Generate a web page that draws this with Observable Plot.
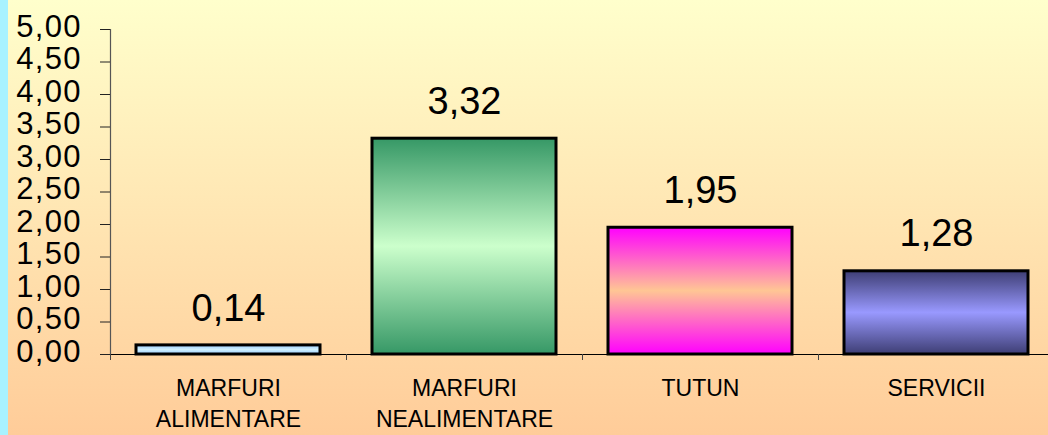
<!DOCTYPE html>
<html><head><meta charset="utf-8">
<script src="https://cdn.jsdelivr.net/npm/d3@7"></script>
<script src="https://cdn.jsdelivr.net/npm/@observablehq/plot@0.6"></script>
<style>
html,body{margin:0;padding:0;background:#ffcc99;overflow:hidden}
g[aria-label="y-axis tick label"] text{letter-spacing:1.3px}
</style>
</head><body><div id="chart"></div>
<script>
const categories = ["MARFURI\nALIMENTARE", "MARFURI\nNEALIMENTARE", "TUTUN", "SERVICII"];
const values = [0.14, 3.32, 1.95, 1.28];
const yTicks = [0, 0.5, 1, 1.5, 2, 2.5, 3, 3.5, 4, 4.5, 5];

const data = categories.map((c, i) => ({category: c, value: values[i]}));

// gradient styles (edge, middle, edge)
const gradientStops = [
  ["#99ccff", "#d2f2ff", "#99ccff"],
  ["#369866", "#ccffcc", "#369866"],
  ["#ff00ff", "#ffc694", "#ff00ff"],
  ["#3e3e74", "#9999ff", "#3e3e74"]
];
const fmt = v => v.toFixed(2).replace(".", ",");
const W = 1048, H = 435, X0 = 110, X1 = 1054;
const step = (X1 - X0) / categories.length;
const font = "Arial, 'Liberation Sans', sans-serif";

function defs() {
  const ns = "http://www.w3.org/2000/svg";
  const d = document.createElementNS(ns, "defs");
  gradientStops.forEach((stops, i) => {
    const g = document.createElementNS(ns, "linearGradient");
    g.setAttribute("id", "grad" + i);
    g.setAttribute("x1", "0"); g.setAttribute("y1", "0");
    g.setAttribute("x2", "0"); g.setAttribute("y2", "1");
    stops.forEach((c, k) => {
      const s = document.createElementNS(ns, "stop");
      s.setAttribute("offset", k / (stops.length - 1));
      s.setAttribute("stop-color", c);
      g.appendChild(s);
    });
    d.appendChild(g);
  });
  return d;
}

const chart = Plot.plot({
  width: W,
  height: H,
  marginTop: 29,
  marginBottom: 81,
  marginLeft: X0,
  marginRight: 0,
  style: {
    background: "linear-gradient(to right, #a8f2ff 0px, #a8f2ff 8px, transparent 8px), linear-gradient(#ffffcc, #ffcc99)",
    fontFamily: font,
    color: "black",
    overflow: "visible"
  },
  x: {domain: categories, range: [X0, X1], paddingInner: 0.22, paddingOuter: 0.11, label: null},
  y: {domain: [0, 5], label: null},
  marks: [
    defs,
    ...data.map((d, i) => Plot.barY([d], {x: "category", y: "value", fill: `url(#grad${i})`, stroke: "black", strokeWidth: 3})),
    Plot.ruleX([categories[0]], {x: d => d, dx: -step / 2, y1: 0, y2: 5, stroke: "#555", strokeWidth: 1.2}),
    Plot.ruleY([0], {stroke: "black", insetLeft: -10, strokeWidth: 1.2}),
    Plot.axisX(categories, {tickSize: 6, tickFormat: () => "", dx: -step / 2, stroke: "#444"}),
    Plot.axisX(categories, {tickSize: 0, tickPadding: 19.5, fontSize: 23, lineHeight: 1.36, tickFormat: d => d, fill: "black"}),
    Plot.axisY(yTicks, {tickSize: 10, tickFormat: () => "", stroke: "#222"}),
    Plot.axisY(yTicks, {tickSize: 0, tickPadding: 28.7, fontSize: 31, dy: -2.5, tickFormat: fmt, fill: "black"}),
    Plot.text(data, {x: "category", y: "value", text: d => fmt(d.value), dy: -37, fontSize: 38, fill: "black"})
  ]
});
document.getElementById("chart").appendChild(chart);
</script>
</body></html>
